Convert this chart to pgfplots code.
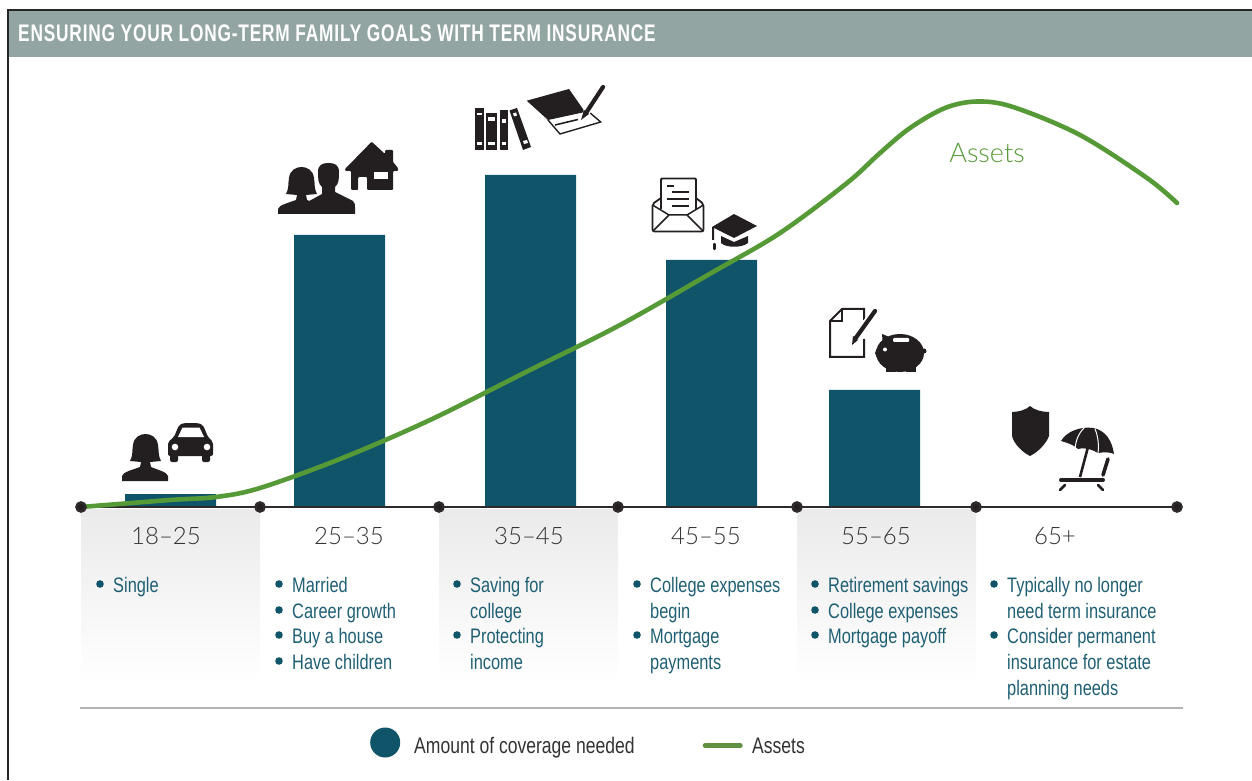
\documentclass[border=0pt]{standalone}
\usepackage{fontspec}
\usepackage{pgfplots}
\pgfplotsset{compat=1.18}
\setmainfont{Liberation Sans}
\newfontfamily\cond[FakeStretch=0.78]{Liberation Sans}
\newfontfamily\headf[FakeStretch=0.72,LetterSpace=3.4]{Liberation Sans Bold}
\newfontfamily\lightf{Lato Light}
\definecolor{barc}{HTML}{0F5469}
\definecolor{greenc}{HTML}{569A37}
\definecolor{legc}{HTML}{5F9140}
\definecolor{headc}{HTML}{92A5A2}
\definecolor{txtc}{HTML}{1F5F74}
\definecolor{icon}{HTML}{231F20}
\definecolor{darkt}{HTML}{333333}
\newcommand{\bl}[3]{\fill[barc] (#1,#2-8) circle (3.8);\node[anchor=base west,inner sep=0pt,text=txtc,font=\cond\fontsize{21}{25}\selectfont] at (#1+13,#2) {#3};}
\newcommand{\cont}[3]{\node[anchor=base west,inner sep=0pt,text=txtc,font=\cond\fontsize{21}{25}\selectfont] at (#1+13,#2) {#3};}
\newcommand{\age}[2]{\node[anchor=base,inner sep=0pt,text=darkt,font=\lightf\fontsize{24}{30}\selectfont] at (#1,544) {#2};}
\newcommand{\woman}{\fill[icon] (122,481) -- (122,476) .. controls (123,472) and (132,470) .. (140,467) -- (141,462) -- (130,461) .. controls (133,456) and (132,450) .. (133,445) .. controls (134,437) and (140,434) .. (145.5,434) .. controls (151,434) and (157,437) .. (158,445) .. controls (159,450) and (158,456) .. (161,461) -- (150,462) -- (151,467) .. controls (158,470) and (167,472) .. (168,476) -- (168,481) -- cycle;}
\begin{document}
\begin{tikzpicture}[x=1pt,y=1pt]
\path[use as bounding box] (0,0) rectangle (1252,780);
\begin{scope}[x=1pt,y=-1pt,yshift=780pt]
\shade[top color=black!8,bottom color=white] (81,509) rectangle (260,682);
\shade[top color=black!8,bottom color=white] (439,509) rectangle (618,682);
\shade[top color=black!8,bottom color=white] (797,509) rectangle (976,682);
\fill[headc] (8,10) rectangle (1252,57);
\draw[black!85,line width=1.2] (8,780) -- (8,10) -- (1252,10);
\draw[black!30,line width=2] (80,708) -- (1183,708);
\end{scope}
\begin{axis}[
  at={(0,0)},anchor=south west,scale only axis,width=1252pt,height=780pt,
  xmin=0,xmax=1252,ymin=-273,ymax=507,hide axis,clip=false,
  legend columns=2,
  legend cell align=left,
  legend style={at={(axis cs:370,-235.5)},anchor=west,draw=none,fill=none,inner sep=0pt,
    font=\cond\fontsize{22.5}{26}\selectfont,text=darkt,
    /tikz/every even column/.append style={column sep=66pt}},
]
\addplot[ybar,bar width=91,fill=barc,draw=none,
  legend image code/.code={\fill[barc] (15pt,4pt) circle (15pt);\path[draw=none,fill=none] (0pt,0pt) -- (42pt,0pt);}]
  coordinates {(170.5,13) (339.5,272) (530.5,332) (711.5,247) (874.5,117)};
\addlegendentry{Amount of coverage needed}
\addplot[forget plot,color=icon!95,line width=2.6,mark=*,mark size=4.5,mark options={fill=icon,draw=none}]
  coordinates {(81,0) (260,0) (439,0) (618,0) (797,0) (976,0) (1177,0)};
\addplot[greenc,line width=4.6,smooth,tension=0.55,line cap=round,
  legend image code/.code={\draw[legc,line width=5pt,line cap=round] (2pt,1pt) -- (37pt,1pt);\path[draw=none] (0pt,0pt) -- (47pt,0pt);}]
  coordinates {(81,0) (170,7) (216,10) (260,19) (340,48) (430,87) (530,137) (620,182) (713,235) (780,274) (847,324) (880,354) (910,379) (945,399) (977,405.5) (1013,400) (1080,372) (1147,329) (1177,304)};
\addlegendentry{Assets}
\end{axis}
\begin{scope}[x=1pt,y=-1pt,yshift=780pt]
\node[anchor=base west,inner sep=0pt,text=white,font=\headf\fontsize{24}{28}\selectfont] at (18,42) {ENSURING YOUR LONG-TERM FAMILY GOALS WITH TERM INSURANCE};
\node[anchor=base,inner sep=0pt,text=greenc,font=\lightf\fontsize{27}{32}\selectfont] at (987,163) {Assets};
\age{166}{18–25}\age{349}{25–35}\age{529}{35–45}\age{706}{45–55}\age{876}{55–65}\age{1055}{65+}
\bl{100}{592}{Single}
\bl{279}{592}{Married}\bl{279}{618}{Career growth}\bl{279}{643}{Buy a house}\bl{279}{669}{Have children}
\bl{457}{592}{Saving for}\cont{457}{618}{college}\bl{457}{643}{Protecting}\cont{457}{669}{income}
\bl{637}{592}{College expenses}\cont{637}{618}{begin}\bl{637}{643}{Mortgage}\cont{637}{669}{payments}
\bl{815}{592}{Retirement savings}\bl{815}{618}{College expenses}\bl{815}{643}{Mortgage payoff}
\bl{994}{592}{Typically no longer}\cont{994}{618}{need term insurance}\bl{994}{643}{Consider permanent}\cont{994}{669}{insurance for estate}\cont{994}{695}{planning needs}
% woman + car
\woman
\fill[icon,rounded corners=2] (168,456) -- (168,442) -- (174,437) -- (179,425) -- (184,423) -- (198,423) -- (203,425) -- (208,437) -- (213,442) -- (213,456) -- cycle;
\fill[icon,rounded corners=2] (170,452) rectangle (178,462);\fill[icon,rounded corners=2] (202,452) rectangle (210,462);
\fill[white] (178,437) -- (182.5,427.5) -- (199.5,427.5) -- (204,437) -- cycle;
\fill[white] (175,447) circle (3.3);\fill[white] (207,447) circle (3.3);
% couple + house
\begin{scope}[shift={(156,-267)}]\woman\end{scope}
\fill[icon] (302,214) -- (302,205) -- (322,194) -- (322,187) .. controls (318,184) and (318,178) .. (318,172) .. controls (318,165) and (322,163) .. (328.5,163) .. controls (335,163) and (339,165) .. (339,172) .. controls (339,178) and (339,184) .. (335,187) -- (335,192) -- (353,201) .. controls (355,203) and (355,205) .. (355,207) -- (355,214) -- cycle;
\fill[icon,rounded corners=1] (371.7,141.7) -- (385,154) -- (385,150) -- (393,150) -- (393,162) -- (398,168) -- (398,171) -- (393,171) -- (393,190) -- (367,190) -- (367,177) -- (358,177) -- (358,190) -- (351,190) -- (351,171) -- (345,171) -- (345,169) -- cycle;
\fill[white] (374,172) rectangle (388,179);
% books + notebook
\fill[icon] (475,108) rectangle (483.5,150);\fill[icon] (486,113) rectangle (497,150);\fill[icon] (500,110) rectangle (508,150);
\fill[icon] (509.5,110.5) -- (517,108) -- (531,147) -- (523,150) -- cycle;
\fill[white] (477,113) rectangle (481.5,115.5);\fill[white] (477,142) rectangle (481.5,145);
\fill[white] (488,117) rectangle (495,121.5);\fill[white] (488,142) rectangle (495,145);
\fill[white] (502,119) rectangle (506,123);\fill[white] (502,142) rectangle (506,145);
\fill[white] (513,113.5) -- (516,112.5) -- (517,115.5) -- (514,116.5) -- cycle;\fill[white] (523,141) -- (527,140) -- (528,143) -- (524,144) -- cycle;
\fill[icon] (526.7,100.7) -- (569,89) -- (585,112) -- (548,120) -- cycle;
\draw[icon,line width=1.4] (548,120) -- (560,134) -- (600.7,122) -- (589,112);
\draw[icon,line width=1.6] (555,125) -- (578,119.5);
\draw[white,line width=7] (586,113) -- (603,88);
\draw[icon,line width=4.2,line cap=round] (586,113) -- (603,87);
\fill[icon] (581,120) -- (584,110) -- (589,114) -- cycle;
% envelope + cap
\draw[icon,line width=1.8,rounded corners=1] (661,198) -- (661,178.5) -- (696,178.5) -- (696,198);
\draw[icon,line width=1.8,rounded corners=2] (661,198) -- (652.5,204) -- (652.5,231.5) -- (703.5,231.5) -- (703.5,204) -- (696,198);
\draw[icon,line width=1.5] (652.5,205) -- (669,215) -- (687,215) -- (703.5,205);
\draw[icon,line width=1.5] (653,231) -- (669,215);\draw[icon,line width=1.5] (703,231) -- (687,215);
\draw[icon,line width=1.5] (661,198) -- (661,209);\draw[icon,line width=1.5] (696,198) -- (696,209);
\draw[icon,line width=1.5] (667,186) -- (674,186);\draw[icon,line width=1.5] (672,192) -- (689,192);\draw[icon,line width=1.5] (667,199) -- (689,199);\draw[icon,line width=1.5] (672,206) -- (689,206);
\fill[icon] (734,214) -- (757,226) -- (734,238) -- (714,228) -- (714,240) -- (712,240) -- (712,227) -- cycle;
\fill[icon] (721,236) -- (734,242) -- (748,236) -- (748,243) .. controls (742,248) and (726,248) .. (721,243) -- cycle;
\draw[icon,line width=2.4,line cap=round] (714.5,244) -- (714.5,249);
% doc + pig
\draw[icon,line width=2] (864,339) -- (864,357) -- (830,357) -- (830,321) -- (842,309) -- (864,309) -- (864,320);
\draw[icon,line width=2] (830,321) -- (842,321) -- (842,309);
\draw[white,line width=7] (855,339) -- (875,310);
\draw[icon,line width=4.2,line cap=round] (855,339) -- (875,311);
\fill[icon] (852,345) -- (853,336) -- (858,340) -- cycle;
\fill[icon] (900,353) ellipse (24 and 19);
\fill[icon] (880,353) circle (5);
\fill[icon] (882,334) -- (892,338) -- (883,346) -- cycle;
\fill[icon] (924,351) circle (2.5);
\fill[icon] (886,362) rectangle (896,372.5);\fill[icon] (906,362) rectangle (916,372.5);
\fill[white] (885,349.5) circle (2);
\fill[white,rounded corners=1] (893,338) rectangle (909,342);
% shield + beach
\fill[icon] (1030,406) .. controls (1034,410) and (1042,412) .. (1049,412) -- (1049,436) .. controls (1046,444) and (1038,452) .. (1030,456) .. controls (1022,452) and (1014,444) .. (1012,436) -- (1012,412) .. controls (1018,412) and (1026,410) .. (1030,406) -- cycle;
\fill[icon] (1093,428) .. controls (1105,430) and (1112,440) .. (1114,454) .. controls (1110,452) and (1104,452) .. (1098,453) .. controls (1093,450) and (1086,447) .. (1078,449) .. controls (1074,445) and (1068,443) .. (1061,441) .. controls (1066,432) and (1080,426) .. (1093,428) -- cycle;
\draw[white,line width=1] (1084,428) .. controls (1078,434) and (1076,440) .. (1075,449);
\draw[white,line width=1] (1095,429) .. controls (1098,436) and (1099,445) .. (1098,453);
\draw[icon,line width=2.6] (1088,447) -- (1080,477);
\draw[icon,line width=4,line cap=round] (1061,480) -- (1103,480);
\draw[icon,line width=2.6,line cap=round] (1065,485) -- (1060,490);\draw[icon,line width=2.6,line cap=round] (1098,485) -- (1103,490);
\draw[icon,line width=3.6,line cap=round] (1108,459) -- (1103,475);
\end{scope}
\end{tikzpicture}
\end{document}
